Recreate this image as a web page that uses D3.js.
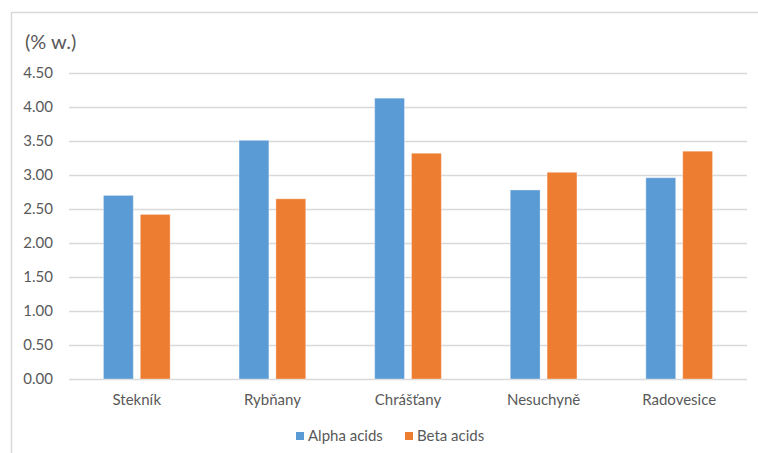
<!DOCTYPE html>
<html>
<head>
<meta charset="utf-8">
<script src="https://cdn.jsdelivr.net/npm/d3@7"></script>
<style>
  html, body { margin: 0; padding: 0; background: #fff; }
  svg { display: block; }
  text { font-family: Lato, "Open Sans", sans-serif; fill: #595959; }
</style>
</head>
<body>
<svg id="chart" width="758" height="453"></svg>
<script>
// Hop localities and acid content (% w.)
const categories = ["Stekník", "Rybňany", "Chrášťany", "Nesuchyně", "Radovesice"];
const seriesNames = ["Alpha acids", "Beta acids"];
const alphaAcids = [2.70, 3.51, 4.13, 2.78, 2.96];
const betaAcids  = [2.42, 2.65, 3.32, 3.04, 3.35];
const yTicks = [0, 0.5, 1, 1.5, 2, 2.5, 3, 3.5, 4, 4.5];
const yLabel = "(% w.)";

const colors = ["#5b9bd5", "#ed7d31"];
const series = [alphaAcids, betaAcids];

const svg = d3.select("#chart");
const W = 758, H = 453;
const margin = { left: 69, right: 11, top: 73, bottom: 74 };
const plotRight = W - margin.right;
const plotBottom = H - margin.bottom;
const labelFont = "15px";

// chart area frame (left and top edges visible)
svg.append("path")
  .attr("d", `M11.5,${H} V12.5 H${W}`)
  .attr("fill", "none")
  .attr("stroke", "#d9d9d9")
  .attr("stroke-width", 1.5);

const x = d3.scaleBand()
  .domain(categories)
  .range([margin.left, plotRight])
  .paddingInner(0)
  .paddingOuter(0);

const xInner = d3.scaleBand()
  .domain(seriesNames)
  .range([0, x.bandwidth()])
  .paddingInner(0.19)
  .paddingOuter(0.935);

const y = d3.scaleLinear()
  .domain([0, 4.5])
  .range([plotBottom, margin.top]);

// gridlines
svg.append("g")
  .selectAll("line")
  .data(yTicks)
  .join("line")
  .attr("x1", margin.left)
  .attr("x2", plotRight)
  .attr("y1", d => Math.round(y(d)) + 0.5)
  .attr("y2", d => Math.round(y(d)) + 0.5)
  .attr("stroke", "#d9d9d9")
  .attr("stroke-width", 1.5);

// y axis labels
const yAxis = d3.axisLeft(y).tickValues(yTicks).tickFormat(d3.format(".2f")).tickSize(0).tickPadding(16);
const gy = svg.append("g").attr("transform", `translate(${margin.left},0)`).call(yAxis);
gy.select(".domain").remove();
gy.selectAll("text").style("font-size", labelFont).style("fill", "#595959").style("font-family", "Lato, sans-serif");

// bars
const groups = svg.append("g")
  .selectAll("g")
  .data(categories)
  .join("g")
  .attr("transform", d => `translate(${x(d)},0)`);

groups.selectAll("rect")
  .data((c, i) => seriesNames.map((s, j) => ({ s, j, v: series[j][i] })))
  .join("rect")
  .attr("x", d => xInner(d.s))
  .attr("width", xInner.bandwidth())
  .attr("y", d => y(d.v))
  .attr("height", d => plotBottom - y(d.v))
  .attr("fill", d => colors[d.j])
  .attr("stroke", "rgba(255,255,255,0.35)")
  .attr("stroke-width", 1);

// x axis labels
const xAxis = d3.axisBottom(x).tickSize(0).tickPadding(15);
const gx = svg.append("g").attr("transform", `translate(0,${plotBottom})`).call(xAxis);
gx.select(".domain").remove();
gx.selectAll("text").style("font-size", labelFont).style("fill", "#595959").style("font-family", "Lato, sans-serif");

// axis title
svg.append("text")
  .attr("x", 25)
  .attr("y", 49)
  .style("font-size", "20px")
  .text(yLabel);

// legend
const legend = svg.append("g").attr("transform", "translate(296,441)");
const legendItems = [
  { name: seriesNames[0], color: colors[0], x: 0 },
  { name: seriesNames[1], color: colors[1], x: 109 }
];
const li = legend.selectAll("g").data(legendItems).join("g")
  .attr("transform", d => `translate(${d.x},0)`);
li.append("rect").attr("x", 0).attr("y", -9).attr("width", 8).attr("height", 8).attr("fill", d => d.color);
li.append("text").attr("x", 12).attr("y", 0).style("font-size", labelFont).text(d => d.name);
</script>
</body>
</html>
